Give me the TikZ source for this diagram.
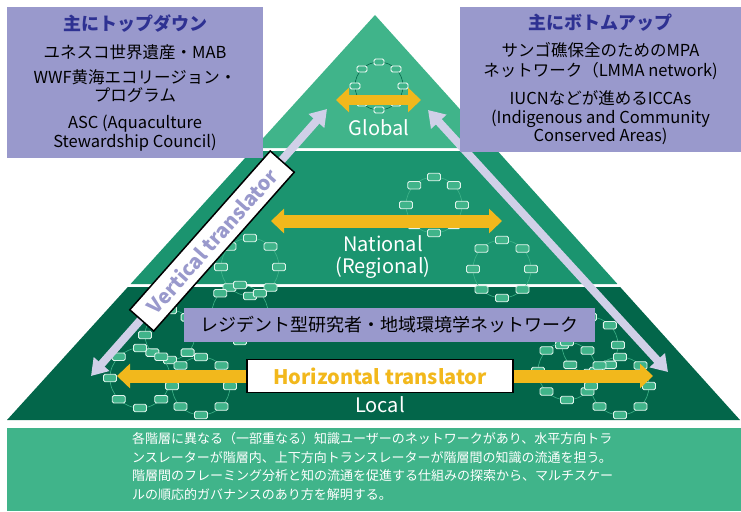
\documentclass[tikz,border=0pt]{standalone}
\usepackage{fontspec}
\setmainfont{Noto Sans CJK JP}
\usetikzlibrary{arrows.meta,calc}

\definecolor{globalgreen}{HTML}{40B48A}
\definecolor{nationalgreen}{HTML}{1B946F}
\definecolor{localgreen}{HTML}{03664A}
\definecolor{boxpurple}{HTML}{9999CC}
\definecolor{titleblue}{HTML}{2E3192}
\definecolor{arrowyellow}{HTML}{F2B81C}
\definecolor{lavender}{HTML}{D0D0E8}

\begin{document}
\begin{tikzpicture}[x=1pt,y=-1pt]

    % styles
    \tikzstyle{infobox} = [fill=boxpurple,inner sep=0pt,align=center,text=black,
        font=\fontsize{16.5}{18.5}\selectfont]
    \tikzstyle{tierlabel} = [text=white,align=center,font=\fontsize{20}{22}\selectfont]
    \tikzstyle{ringline} = [draw=globalgreen,line width=0.6pt]
    \tikzstyle{netnode} = [draw=white!85!globalgreen,fill=globalgreen,line width=0.9pt,
        rounded corners=1.5pt,inner sep=0pt,minimum width=13pt,minimum height=7.5pt]
    \tikzstyle{globalnode} = [netnode,draw=white,minimum width=10pt,minimum height=6pt]
    \tikzstyle{yarrow} = [draw=arrowyellow,line width=13pt,
        -{Triangle[length=13pt,width=24pt]}]
    \tikzstyle{yarrowdbl} = [yarrow,{Triangle[length=13pt,width=24pt]}-{Triangle[length=13pt,width=24pt]}]
    \tikzstyle{varrow} = [draw=lavender,line width=8pt,
        {Triangle[length=16pt,width=20pt]}-{Triangle[length=16pt,width=20pt]}]
    \tikzstyle{transbox} = [draw=black,line width=1.5pt,fill=white,inner sep=0pt,
        font=\fontsize{20}{20}\selectfont\bfseries]

    \useasboundingbox (0,0) rectangle (741,511);

    % pyramid
    \coordinate (apex) at (375,15);
    \coordinate (bl) at (7,420);
    \coordinate (br) at (740,420);
    \fill[globalgreen] (apex) -- ($(apex)!0.3284!(bl)$) -- ($(apex)!0.3284!(br)$) -- cycle;
    \fill[nationalgreen] ($(apex)!0.3358!(bl)$) -- ($(apex)!0.6642!(bl)$)
        -- ($(apex)!0.6642!(br)$) -- ($(apex)!0.3358!(br)$) -- cycle;
    \fill[localgreen] ($(apex)!0.6716!(bl)$) -- (bl) -- (br)
        -- ($(apex)!0.6716!(br)$) -- cycle;

    % summary
    \node[fill=globalgreen,anchor=north west,inner sep=0pt,
        minimum width=734pt,minimum height=83pt] (summary) at (7,428) {};
    \node[anchor=north west,inner sep=0pt,align=left,text=white,
        font=\fontsize{13}{18.7}\selectfont] (summarytext) at (132,432)
        {各階層に異なる（一部重なる）知識ユーザーのネットワークがあり、水平方向トラ\\
         ンスレーターが階層内、上下方向トランスレーターが階層間の知識の流通を担う。\\
         階層間のフレーミング分析と知の流通を促進する仕組みの探索から、マルチスケー\\
         ルの順応的ガバナンスのあり方を解明する。};

    % networks
    \draw[draw=localgreen,line width=0.6pt] (379,86) circle[radius=24pt];
    \foreach \a in {0,45,...,315}
        \node[globalnode,fill=globalgreen] (g-\a) at ([shift={(\a:24pt)}]379,86) {};
    \foreach \cx/\cy/\r [count=\k] in {250/267/29, 434/205/28, 502/269/29,
        170/335/25, 240/313/28, 140/378/30, 201/386/29,
        590/345/28, 567/371/29, 620/386/29} {
        \draw[ringline] (\cx,\cy) circle[radius=\r pt];
        \foreach \a in {0,45,...,315}
            \node[netnode] (ring\k-\a) at ([shift={(\a:\r pt)}]\cx,\cy) {};
    }

    % horizontal arrows
    \coordinate (gl) at (336,100);
    \coordinate (gr) at (421,100);
    \draw[yarrowdbl,line width=10pt] (gl) -- (gr);
    \coordinate (nl) at (271,221);
    \coordinate (nr) at (502,221);
    \draw[yarrowdbl] (nl) -- (nr);

    \node[transbox,text=arrowyellow,minimum width=266pt,minimum height=33pt]
        (horiz) at (380,376) {Horizontal translator};
    \coordinate (ll) at (117,376);
    \coordinate (lr) at (653,376);
    \draw[yarrow] (horiz.west) -- (ll);
    \draw[yarrow] (horiz.east) -- (lr);

    % vertical arrows
    \coordinate (vl1) at (91,376);
    \coordinate (vl2) at (327,109);
    \coordinate (vr1) at (428,110);
    \coordinate (vr2) at (668,372);
    \draw[varrow] (vl1) -- (vl2);
    \draw[varrow] (vr1) -- (vr2);
    \node[transbox,text=boxpurple,rotate=48.5,minimum width=212pt,minimum height=32pt]
        (vert) at (212,241) {Vertical translator};

    % boxes
    \node[infobox,minimum width=256pt,minimum height=151pt] (topdown) at (135,82.5)
        {{\fontsize{18}{18.5}\selectfont\bfseries\color{titleblue}主にトップダウン}\\[9.5pt]
         ユネスコ世界遺産・MAB\\[6.5pt]
         WWF黄海エコリージョン・\\
         プログラム\\[8.5pt]
         ASC (Aquaculture\\
         Stewardship Council)};
    \node[infobox,minimum width=281pt,minimum height=145pt] (bottomup) at (600.5,79.5)
        {{\fontsize{18}{18.5}\selectfont\bfseries\color{titleblue}主にボトムアップ}\\[8.5pt]
         サンゴ礁保全のためのMPA\\[1.5pt]
         ネットワーク（LMMA network)\\[9.5pt]
         IUCNなどが進めるICCAs\\
         (Indigenous and Community\\
         Conserved Areas)};
    \node[infobox,font=\fontsize{18}{18}\selectfont,minimum width=411pt,minimum height=34pt]
        (resnet) at (389.5,325) {レジデント型研究者・地域環境学ネットワーク};

    % tier labels
    \node[tierlabel] (globallbl) at (379,128) {Global};
    \node[tierlabel] (nationallbl) at (383,257) {National\\(Regional)};
    \node[tierlabel] (locallbl) at (380,405) {Local};
\end{tikzpicture}
\end{document}
